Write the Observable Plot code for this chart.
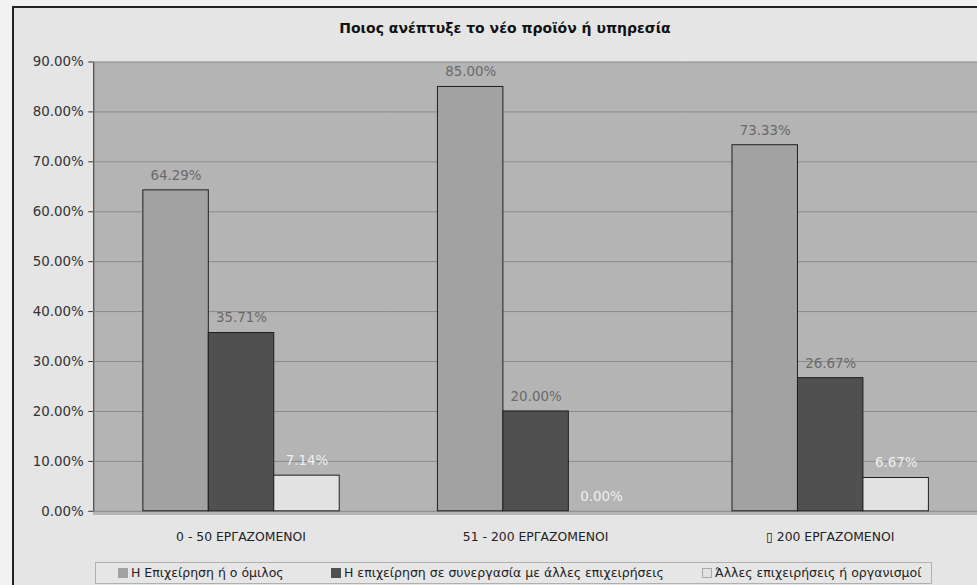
<!DOCTYPE html>
<html>
<head>
<meta charset="utf-8">
<script src="https://cdn.jsdelivr.net/npm/d3@7"></script>
<script src="https://cdn.jsdelivr.net/npm/@observablehq/plot@0.6"></script>
<style>
  html, body { margin: 0; padding: 0; width: 977px; height: 585px; overflow: hidden; background: #f1f1f1; font-family: "DejaVu Sans", sans-serif; }
  #panel { position: absolute; left: 12px; top: 6px; width: 1000px; height: 620px; background: #e5e5e5; border-left: 2px solid #222; border-top: 2px solid #222; }
  #plotbg { position: absolute; left: 93px; top: 62px; width: 900px; height: 453px; background: #b4b4b4; }
  #title { position: absolute; left: 13px; width: 984px; top: 20px; text-align: center; font-weight: bold; font-size: 14px; color: #111; }
  #chart { position: absolute; left: 0; top: 0; }
  #legend { position: absolute; left: 95px; top: 562px; width: 837px; height: 22px; background: #e6e6e6; border: 1px solid #b0b0b0; box-sizing: border-box; }
  .item { position: absolute; top: 3px; font-size: 12.5px; color: #222; white-space: nowrap; line-height: 14px; }
  .sw { display: inline-block; width: 10px; height: 10px; vertical-align: -1px; margin-right: 3px; box-sizing: border-box; }
</style>
</head>
<body>
<div id="panel"></div>
<div id="plotbg"></div>
<div id="title">Ποιος ανέπτυξε το νέο προϊόν ή υπηρεσία</div>
<div id="chart"></div>
<div id="legend"></div>
<script>
const categories = ["0 - 50 ΕΡΓΑΖΟΜΕΝΟΙ", "51 - 200 ΕΡΓΑΖΟΜΕΝΟΙ", "\u25AF 200 ΕΡΓΑΖΟΜΕΝΟΙ"];
const seriesNames = ["Η Επιχείρηση ή ο όμιλος", "Η επιχείρηση σε συνεργασία με άλλες επιχειρήσεις", "Άλλες επιχειρήσεις ή οργανισμοί"];
const valuesFirm = [0.6429, 0.8500, 0.7333];
const valuesCoop = [0.3571, 0.2000, 0.2667];
const valuesOther = [0.0714, 0.0000, 0.0667];
const yTicks = [0, 0.1, 0.2, 0.3, 0.4, 0.5, 0.6, 0.7, 0.8, 0.9];
const colors = ["#a2a2a2", "#505050", "#e2e2e2"];
const labelColors = ["#6a6a6a", "#6a6a6a", "#eeeeee"];

const seriesValues = [valuesFirm, valuesCoop, valuesOther];
const data = categories.flatMap((c, i) => seriesNames.map((s, j) => ({cat: c, series: s, value: seriesValues[j][i]})));
const fmt = d3.format(".2%");

const chart = Plot.plot({
  width: 985,
  height: 560,
  marginLeft: 93,
  marginTop: 62,
  marginRight: 0,
  marginBottom: 45,
  style: {background: "transparent", fontFamily: "DejaVu Sans, sans-serif", fontSize: "13.5px", color: "#333", overflow: "visible"},
  fx: {domain: categories, padding: 0, label: null, axis: null},
  x: {domain: seriesNames, paddingInner: 0, paddingOuter: 0.75, axis: null},
  y: {domain: [0, 0.9], ticks: yTicks, tickFormat: fmt, label: null, tickSize: 5, tickPadding: 5, line: true},
  color: {domain: seriesNames, range: colors},
  marks: [
    Plot.ruleY(yTicks, {stroke: "#8a8a8a", strokeWidth: 1}),
    Plot.barY(data, {fx: "cat", x: "series", y: "value", fill: "series", stroke: "#1e1e1e", strokeWidth: 1}),
    ...seriesNames.map((s, j) => Plot.text(data.filter(d => d.series === s), {
      fx: "cat", x: "series", y: "value", text: d => fmt(d.value), dy: -15, fill: labelColors[j], fontSize: 13.5
    })),
    Plot.axisFx({anchor: "bottom", tickSize: 0, tickPadding: 21, fontSize: 12.5, fill: "#222", label: null})
  ]
});
document.getElementById("chart").appendChild(chart);

const legend = document.getElementById("legend");
const lx = [22, 235, 606];
seriesNames.forEach((s, j) => {
  const it = document.createElement("div");
  it.className = "item";
  it.style.left = lx[j] + "px";
  const sw = document.createElement("span");
  sw.className = "sw";
  sw.style.background = colors[j];
  if (j === 2) sw.style.border = "1px solid #aaa";
  it.appendChild(sw);
  it.appendChild(document.createTextNode(s));
  legend.appendChild(it);
});
</script>
</body>
</html>
